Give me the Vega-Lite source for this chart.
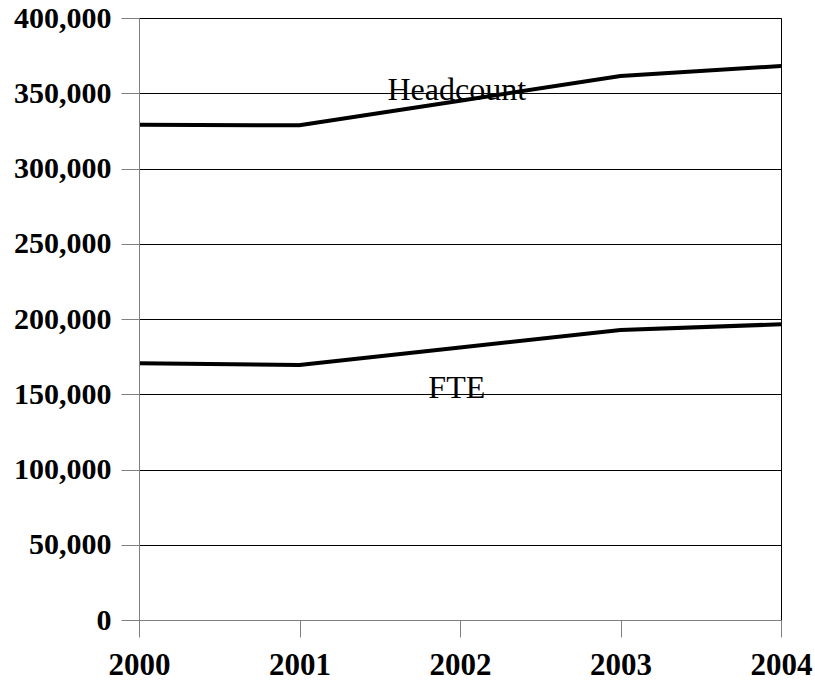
{
  "$schema": "https://vega.github.io/schema/vega-lite/v6.json",
  "width": 642,
  "height": 602,
  "autosize": {"type": "none"},
  "padding": {"left": 139, "top": 18, "right": 34, "bottom": 61},
  "background": "white",
  "config": {
    "view": {"stroke": "black", "strokeWidth": 1},
    "font": "Liberation Serif"
  },
  "datasets": {
    "series": [
      {"year": 2000, "value": 329000, "series": "Headcount"},
      {"year": 2001, "value": 328700, "series": "Headcount"},
      {"year": 2002, "value": 345000, "series": "Headcount"},
      {"year": 2003, "value": 361500, "series": "Headcount"},
      {"year": 2004, "value": 368100, "series": "Headcount"},
      {"year": 2000, "value": 170600, "series": "FTE"},
      {"year": 2001, "value": 169400, "series": "FTE"},
      {"year": 2002, "value": 181000, "series": "FTE"},
      {"year": 2003, "value": 192700, "series": "FTE"},
      {"year": 2004, "value": 196500, "series": "FTE"}
    ],
    "labels": [
      {"year": 2001.98, "value": 352000, "label": "Headcount"},
      {"year": 2001.98, "value": 154000, "label": "FTE"}
    ]
  },
  "layer": [
    {
      "data": {"name": "series"},
      "mark": {"type": "line", "color": "black", "strokeWidth": 4, "strokeJoin": "miter"},
      "encoding": {
        "x": {
          "field": "year", "type": "quantitative",
          "scale": {"domain": [2000, 2004], "nice": false, "zero": false},
          "axis": {
            "values": [2000, 2001, 2002, 2003, 2004],
            "format": "d",
            "title": null,
            "grid": false,
            "domainColor": "#808080",
            "tickColor": "#808080",
            "tickSize": 17,
            "labelFont": "Liberation Serif",
            "labelFontWeight": "bold",
            "labelFontSize": 31,
            "labelColor": "black",
            "labelPadding": 13,
            "labelFlush": false,
            "zindex": 1
          }
        },
        "y": {
          "field": "value", "type": "quantitative",
          "scale": {"domain": [0, 400000], "nice": false},
          "axis": {
            "values": [0, 50000, 100000, 150000, 200000, 250000, 300000, 350000, 400000],
            "format": ",d",
            "title": null,
            "grid": true,
            "gridColor": "black",
            "gridOpacity": 1,
            "gridWidth": 1,
            "domainColor": "#808080",
            "tickColor": "#808080",
            "tickSize": 18,
            "labelFont": "Liberation Serif",
            "labelFontWeight": "bold",
            "labelFontSize": 30,
            "labelColor": "black",
            "labelPadding": 10,
            "labelFlush": false,
            "zindex": 1
          }
        },
        "detail": {"field": "series"}
      }
    },
    {
      "data": {"name": "labels"},
      "mark": {"type": "text", "font": "Liberation Serif", "fontSize": 32, "color": "black", "align": "center", "baseline": "middle"},
      "encoding": {
        "x": {"field": "year", "type": "quantitative"},
        "y": {"field": "value", "type": "quantitative"},
        "text": {"field": "label"}
      }
    }
  ]
}
